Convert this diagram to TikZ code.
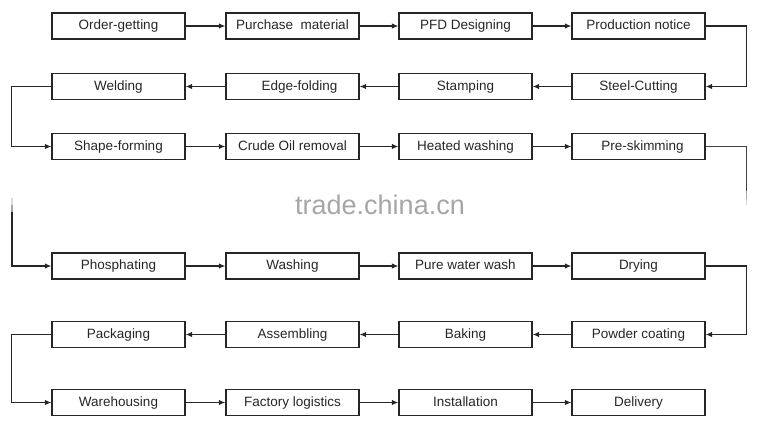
\documentclass[tikz,border=0pt]{standalone}
\usepackage{fontspec}
\setmainfont{Liberation Sans}
\usetikzlibrary{arrows.meta,calc}
\begin{document}
\begin{tikzpicture}[x=1pt,y=-1pt,
  stepbox/.style={draw=black!85, line width=1.2pt, minimum width=133pt, minimum height=26pt,
    inner sep=0pt, text height=10pt, text depth=3pt,
    font=\fontsize{13.5}{15}\selectfont, text=black!85},
  arr/.style={draw=black!85, line width=1.2pt, -{Latex[length=6.5pt,width=5.5pt]}},
  ln/.style={draw=black!75, line width=1.2pt}]
\useasboundingbox (0,0) rectangle (758,429);
% row 1
\node[stepbox] (order) at (118.5,26) {Order-getting};
\node[stepbox] (purch) at (292.5,26) {Purchase\ \ material};
\node[stepbox] (pfd) at (465.5,26) {PFD Designing};
\node[stepbox] (prod) at (638.5,26) {Production notice};
% row 2
\node[stepbox] (weld) at (118.5,86.5) {Welding};
\node[stepbox] (edge) at (292.5,86.5) {\hspace*{14pt}Edge-folding};
\node[stepbox] (stamp) at (465.5,86.5) {Stamping};
\node[stepbox] (steel) at (638.5,86.5) {Steel-Cutting};
% row 3
\node[stepbox] (shape) at (118.5,146.5) {Shape-forming};
\node[stepbox] (crude) at (292.5,146.5) {Crude Oil removal};
\node[stepbox] (heat) at (465.5,146.5) {Heated washing};
\node[stepbox] (pre) at (638.5,146.5) {\hspace*{8pt}Pre-skimming};
% row 4
\node[stepbox] (phos) at (118.5,266) {Phosphating};
\node[stepbox] (wash) at (292.5,266) {Washing};
\node[stepbox] (pure) at (465.5,266) {Pure water wash};
\node[stepbox] (dry) at (638.5,266) {Drying};
% row 5
\node[stepbox] (pack) at (118.5,334.5) {Packaging};
\node[stepbox] (assem) at (292.5,334.5) {Assembling};
\node[stepbox] (bake) at (465.5,334.5) {Baking};
\node[stepbox] (powder) at (638.5,334.5) {Powder coating};
% row 6
\node[stepbox] (ware) at (118.5,402.5) {Warehousing};
\node[stepbox] (fact) at (292.5,402.5) {Factory logistics};
\node[stepbox] (inst) at (465.5,402.5) {Installation};
\node[stepbox] (deliv) at (638.5,402.5) {Delivery};
% watermark
\node[font=\fontsize{27}{30}\selectfont, text=black!35] (wm) at (380,205) {trade.china.cn};
% horizontal arrows
\draw[arr] (order) -- (purch);
\draw[arr] (purch) -- (pfd);
\draw[arr] (pfd) -- (prod);
\draw[arr] (steel) -- (stamp);
\draw[arr] (stamp) -- (edge);
\draw[arr] (edge) -- (weld);
\draw[arr] (shape) -- (crude);
\draw[arr] (crude) -- (heat);
\draw[arr] (heat) -- (pre);
\draw[arr] (phos) -- (wash);
\draw[arr] (wash) -- (pure);
\draw[arr] (pure) -- (dry);
\draw[arr] (powder) -- (bake);
\draw[arr] (bake) -- (assem);
\draw[arr] (assem) -- (pack);
\draw[arr] (ware) -- (fact);
\draw[arr] (fact) -- (inst);
\draw[arr] (inst) -- (deliv);
% turn connectors
\draw[arr] (prod.east) -- ++(41,0) |- (steel.east);
\draw[arr] (weld.west) -- ++(-40,0) |- (shape.west);
\draw[arr] (dry.east) -- ++(41,0) |- (powder.east);
\draw[arr] (pack.west) -- ++(-40,0) |- (ware.west);
% split connector between rows 3 and 4 (faded ends)
\draw[ln] (pre.east) -- ++(41,0) -- ++(0,44) coordinate (rf);
\draw[draw=black!35, line width=1.2pt] (rf) -- ++(0,8) coordinate (rf2);
\draw[draw=black!15, line width=1.2pt] (rf2) -- ++(0,6);
\coordinate (ltop) at (12,212);
\coordinate (lfade) at (12,198);
\draw[draw=black!15, line width=1.2pt] (lfade) -- ++(0,7) coordinate (lfade2);
\draw[draw=black!35, line width=1.2pt] (lfade2) -- (ltop);
\draw[arr] (ltop) |- (phos.west);
\end{tikzpicture}
\end{document}
